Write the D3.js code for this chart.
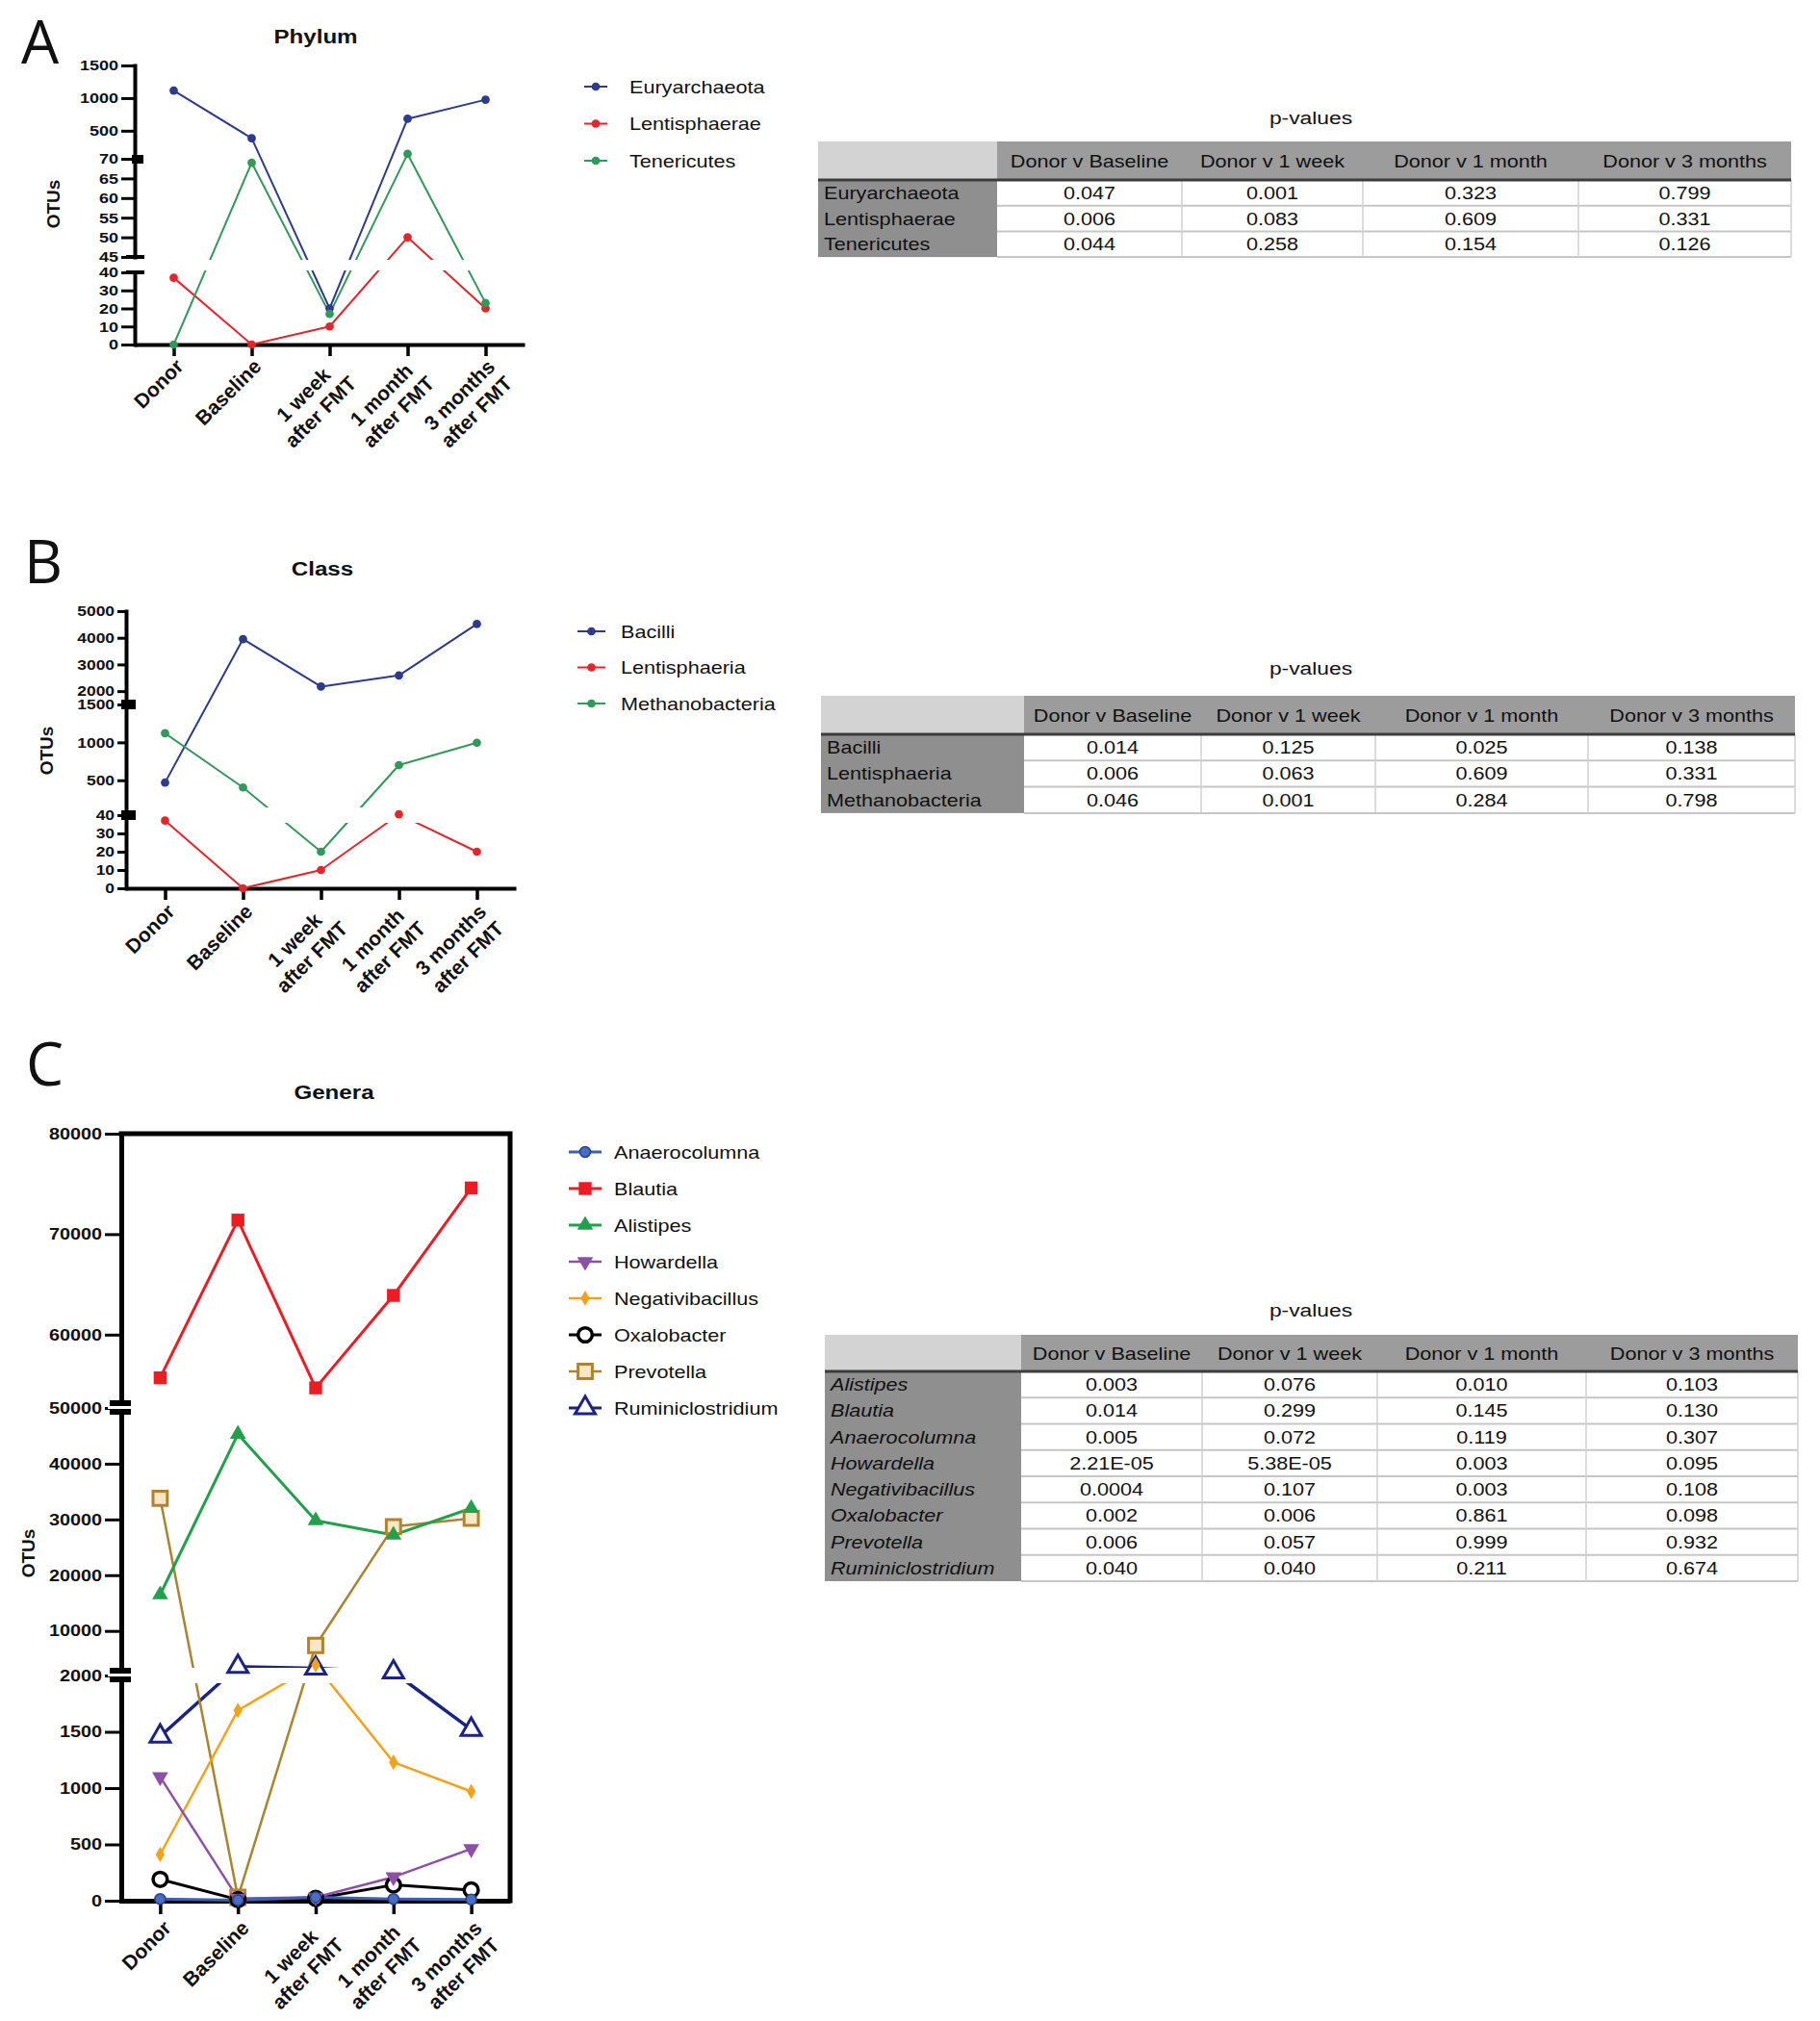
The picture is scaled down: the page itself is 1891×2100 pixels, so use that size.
<!DOCTYPE html>
<html><head><meta charset="utf-8">
<script src="https://cdn.jsdelivr.net/npm/d3@7"></script>
<style>body{margin:0;background:#fff;}</style>
</head><body>
<svg id="fig" width="1891" height="2100"></svg>
<script>
// ---------------- DATA ----------------
const timepoints = ["Donor", "Baseline", "1 week\nafter FMT", "1 month\nafter FMT", "3 months\nafter FMT"];

// Panel A – Phylum
const phylumNames = ["Euryarchaeota", "Lentisphaerae", "Tenericutes"];
const euryarchaeota = [1115, 385, 20, 683, 975];
const lentisphaerae = [37, 0, 10, 50, 20];
const tenericutes = [0, 69, 17, 145, 23];
const phylumTicks = [[0, 10, 20, 30, 40], [45, 50, 55, 60, 65, 70], [500, 1000, 1500]];

// Panel B – Class
const classNames = ["Bacilli", "Lentisphaeria", "Methanobacteria"];
const bacilli = [470, 3950, 2170, 2590, 4520];
const lentisphaeria = [37, 0, 10, 50, 20];
const methanobacteria = [1120, 405, 20, 700, 995];
const classTicks = [[0, 10, 20, 30, 40], [500, 1000, 1500], [2000, 3000, 4000, 5000]];

// Panel C – Genera
const generaNames = ["Anaerocolumna", "Blautia", "Alistipes", "Howardella", "Negativibacillus", "Oxalobacter", "Prevotella", "Ruminiclostridium"];
const anaerocolumna = [15, 5, 30, 15, 10];
const blautia = [55700, 71400, 54700, 63900, 74600];
const alistipes = [16500, 45300, 29800, 27200, 32000];
const howardella = [1100, 20, 30, 210, 460];
const negativibacillus = [410, 1690, 3900, 1230, 970];
const oxalobacter = [190, 10, 20, 140, 95];
const prevotella = [33800, 30, 7400, 28700, 30200];
const ruminiclostridium = [1460, 3600, 3300, 2600, 1520];
const generaTicks = [[0, 500, 1000, 1500, 2000], [10000, 20000, 30000, 40000, 50000], [60000, 70000, 80000]];

// p-value tables
const comparisons = ["Donor v Baseline", "Donor v 1 week", "Donor v 1 month", "Donor v 3 months"];
const phylumRows = ["Euryarchaeota", "Lentisphaerae", "Tenericutes"];
const phylumP = [["0.047", "0.001", "0.323", "0.799"], ["0.006", "0.083", "0.609", "0.331"], ["0.044", "0.258", "0.154", "0.126"]];
const classRows = ["Bacilli", "Lentisphaeria", "Methanobacteria"];
const classP = [["0.014", "0.125", "0.025", "0.138"], ["0.006", "0.063", "0.609", "0.331"], ["0.046", "0.001", "0.284", "0.798"]];
const generaRows = ["Alistipes", "Blautia", "Anaerocolumna", "Howardella", "Negativibacillus", "Oxalobacter", "Prevotella", "Ruminiclostridium"];
const generaP = [
  ["0.003", "0.076", "0.010", "0.103"],
  ["0.014", "0.299", "0.145", "0.130"],
  ["0.005", "0.072", "0.119", "0.307"],
  ["2.21E-05", "5.38E-05", "0.003", "0.095"],
  ["0.0004", "0.107", "0.003", "0.108"],
  ["0.002", "0.006", "0.861", "0.098"],
  ["0.006", "0.057", "0.999", "0.932"],
  ["0.040", "0.040", "0.211", "0.674"]
];

// ---------------- DRAWING ----------------
const SX = 1.2;
const FONT = '"Liberation Sans", Arial, Helvetica, sans-serif';
const svg = d3.select("#fig");
svg.append("rect").attr("width", 1891).attr("height", 2100).attr("fill", "#fff");

function sText(g, x, y, str, o = {}) {
  return g.append("text")
    .attr("transform", `translate(${x},${y}) scale(${o.sx ?? SX},1)`)
    .attr("font-family", o.family || FONT)
    .attr("font-size", o.size || 18)
    .attr("font-weight", o.weight || "normal")
    .attr("font-style", o.style || "normal")
    .attr("text-anchor", o.anchor || "start")
    .attr("fill", o.fill || "#111")
    .text(str);
}

const symTypes = {circle: d3.symbolCircle, square: d3.symbolSquare, triangle: d3.symbolTriangle, tridown: d3.symbolTriangle, diamond: d3.symbolDiamond};
function drawSymbol(g, cx, cy, m) {
  return g.append("path")
    .attr("d", d3.symbol().type(symTypes[m.shape]).size(m.size)())
    .attr("transform", `translate(${cx},${cy})` + (m.shape === "tridown" ? " rotate(180)" : ""))
    .attr("fill", m.fill).attr("stroke", m.stroke || "none").attr("stroke-width", m.sw || 0);
}

function drawChart(c) {
  const g = svg.append("g");
  const x = d3.scalePoint().domain(timepoints).range([c.x0, c.x1]).padding(0.5);
  const segScales = c.segs.map(s => d3.scaleLinear().domain(s.domain).range(s.range));
  const y = v => {
    for (let i = 0; i < c.segs.length; i++) {
      if (v <= c.segs[i].domain[1] || i === c.segs.length - 1) return segScales[i](v);
    }
  };
  // frame (top/right)
  if (c.frame) {
    g.append("path").attr("d", `M${c.x0},${c.top}H${c.x1}V${c.axisY}`).attr("fill", "none")
      .attr("stroke", "#000").attr("stroke-width", c.axisW).attr("stroke-linecap", "square");
  }
  // y axis segments
  segScales.forEach((s, i) => {
    const ax = d3.axisLeft(s).tickValues(c.ticks[i]).tickSize(c.tickLen).tickSizeOuter(0).tickFormat(d3.format("d"));
    const ag = g.append("g").attr("transform", `translate(${c.x0},0)`).call(ax);
    ag.select(".domain").attr("stroke", "#000").attr("stroke-width", c.axisW).attr("stroke-linecap", "square");
    ag.selectAll(".tick line").attr("stroke", "#000").attr("stroke-width", 3);
    ag.selectAll(".tick text").attr("font-family", FONT).attr("font-size", c.tickFont).attr("font-weight", "bold")
      .attr("fill", "#111").attr("x", -(c.tickLen + 3) / SX).attr("transform", `scale(${SX},1)`);
  });
  // x axis
  const xa = g.append("g").attr("transform", `translate(0,${c.axisY})`)
    .call(d3.axisBottom(x).tickSize(c.xTickLen).tickSizeOuter(0).tickFormat(""));
  xa.select(".domain").attr("stroke", "#000").attr("stroke-width", c.axisW);
  xa.selectAll(".tick line").attr("stroke", "#000").attr("stroke-width", 3.5);
  // lines
  const line = d3.line().x((d, i) => x(timepoints[i])).y(d => y(d));
  const order = c.drawOrder || c.series.map((s, i) => i);
  order.forEach(i => {
    const s = c.series[i];
    g.append("path").datum(s.values).attr("d", line).attr("fill", "none")
      .attr("stroke", s.color).attr("stroke-width", s.lw).attr("stroke-linejoin", "round");
  });
  // gap bands at axis breaks
  (c.gaps || []).forEach(b => {
    g.append("rect").attr("x", c.x0 + 3).attr("y", b[0]).attr("width", c.x1 - c.x0 - 6).attr("height", b[1] - b[0]).attr("fill", "#fff");
  });
  // break markers
  (c.breaks || []).forEach(b => {
    g.append("rect").attr("x", b.x).attr("y", b.y).attr("width", b.w).attr("height", b.h).attr("fill", "#000");
    if (b.stripe) g.append("rect").attr("x", b.x - 2).attr("y", b.y + b.h / 2 - 1.5).attr("width", b.w + 4).attr("height", 3).attr("fill", "#fff");
  });
  // markers
  order.forEach(i => {
    const s = c.series[i];
    s.values.forEach((v, j) => drawSymbol(g, x(timepoints[j]), y(v), s.marker));
  });
  // x labels
  timepoints.forEach(tp => {
    const lines = tp.split("\n");
    const lg = g.append("g").attr("transform", `translate(${x(tp)},${c.axisY}) rotate(-45)`);
    const texts = lines.map((ln, i) => lg.append("text").attr("font-family", FONT).attr("font-size", 21)
      .attr("font-weight", "bold").attr("fill", "#111").attr("text-anchor", "end")
      .attr("y", c.labV + i * 25).text(ln));
    const widths = texts.map(t => t.node().getComputedTextLength());
    const maxW = Math.max(...widths);
    texts.forEach((t, i) => t.attr("x", c.labU - (maxW - widths[i]) / 2));
  });
  // y title
  g.append("text").attr("transform", `translate(${c.yTitle[0]},${c.yTitle[1]}) rotate(-90)`)
    .attr("font-family", FONT).attr("font-size", 19).attr("font-weight", "bold").attr("text-anchor", "middle")
    .attr("fill", "#111").text("OTUs");
  // chart title
  sText(g, c.title[0], c.title[1], c.title[2], {size: 21, weight: "bold", anchor: "middle", sx: 1.15});
  // panel letter
  g.append("text").attr("x", c.letter[0]).attr("y", c.letter[1]).attr("font-family", '"Open Sans", "Liberation Sans", sans-serif')
    .attr("font-size", 62).attr("fill", "#111").text(c.letter[2]);
  // legend
  c.series.forEach((s, i) => {
    const ly = c.legend.y0 + i * c.legend.dy;
    g.append("line").attr("x1", c.legend.l0).attr("x2", c.legend.l1).attr("y1", ly).attr("y2", ly)
      .attr("stroke", s.color).attr("stroke-width", Math.min(s.lw, 3));
    drawSymbol(g, (c.legend.l0 + c.legend.l1) / 2, ly, s.marker);
    sText(g, c.legend.tx, ly + 6.5, s.name, {size: 18});
  });
}

function drawTable(t) {
  const g = svg.append("g");
  const xs = t.xs;
  const left = xs[0], right = xs[xs.length - 1];
  const n = t.rows.length;
  const bottom = t.hdr + n * t.rowH;
  sText(g, t.titleX, t.titleY, "p-values", {size: 19, anchor: "middle"});
  g.append("rect").attr("x", left).attr("y", t.top).attr("width", xs[1] - left).attr("height", t.hdr - t.top).attr("fill", "#d3d3d3");
  g.append("rect").attr("x", xs[1]).attr("y", t.top).attr("width", right - xs[1]).attr("height", t.hdr - t.top).attr("fill", "#9c9c9c");
  g.append("rect").attr("x", left).attr("y", t.hdr).attr("width", xs[1] - left).attr("height", bottom - t.hdr).attr("fill", "#8f8f8f");
  for (let i = 1; i <= n; i++) {
    g.append("line").attr("x1", xs[1]).attr("x2", right).attr("y1", t.hdr + i * t.rowH).attr("y2", t.hdr + i * t.rowH)
      .attr("stroke", "#c6c6c6").attr("stroke-width", 2);
  }
  xs.slice(2).forEach(xv => {
    g.append("line").attr("x1", xv).attr("x2", xv).attr("y1", t.hdr).attr("y2", bottom).attr("stroke", "#d0d0d0").attr("stroke-width", 1.5);
  });
  g.append("line").attr("x1", left).attr("x2", right).attr("y1", t.hdr).attr("y2", t.hdr).attr("stroke", "#3c3c3c").attr("stroke-width", 3);
  comparisons.forEach((cmp, j) => {
    sText(g, (xs[j + 1] + xs[j + 2]) / 2, (t.top + t.hdr) / 2 + 6.5, cmp, {size: 18, anchor: "middle"});
  });
  t.rows.forEach((r, i) => {
    const cy = t.hdr + (i + 0.5) * t.rowH + 6.5;
    sText(g, left + 6, cy, r, {size: 18, style: t.italic ? "italic" : "normal"});
    t.values[i].forEach((v, j) => sText(g, (xs[j + 1] + xs[j + 2]) / 2, cy, v, {size: 18, anchor: "middle"}));
  });
}

const dot = col => ({shape: "circle", size: 60, fill: col});

// Panel A
drawChart({
  x0: 140, x1: 545, axisY: 358, axisW: 4, tickLen: 14, tickFont: 15, xTickLen: 12,
  segs: [{domain: [0, 40], range: [358, 283]}, {domain: [45, 70], range: [267, 165]}, {domain: [70, 1500], range: [165, 68]}],
  ticks: phylumTicks,
  gaps: [[270, 281]],
  breaks: [{x: 137, y: 161, w: 12, h: 9}, {x: 131, y: 265, w: 19, h: 4}, {x: 131, y: 281, w: 19, h: 4}],
  series: [
    {name: phylumNames[0], values: euryarchaeota, color: "#2c3b8c", lw: 2, marker: dot("#2c3b8c")},
    {name: phylumNames[1], values: lentisphaerae, color: "#e2262b", lw: 2, marker: dot("#e2262b")},
    {name: phylumNames[2], values: tenericutes, color: "#33995a", lw: 2, marker: dot("#33995a")}
  ],
  labU: -9, labV: 25,
  yTitle: [62, 212], title: [328, 45, "Phylum"], letter: [22, 66, "A"],
  legend: {y0: 90, dy: 38.5, l0: 607, l1: 631, tx: 654}
});

// Panel B
drawChart({
  x0: 131, x1: 536, axisY: 923, axisW: 4, tickLen: 9, tickFont: 14.5, xTickLen: 12,
  segs: [{domain: [0, 40], range: [923, 847]}, {domain: [40, 1500], range: [847, 732]}, {domain: [1500, 5000], range: [732, 635]}],
  ticks: classTicks,
  gaps: [[839, 855]],
  breaks: [{x: 126, y: 727, w: 15, h: 10}, {x: 126, y: 842, w: 15, h: 10}],
  series: [
    {name: classNames[0], values: bacilli, color: "#2c3b8c", lw: 2, marker: dot("#2c3b8c")},
    {name: classNames[1], values: lentisphaeria, color: "#e2262b", lw: 2, marker: dot("#e2262b")},
    {name: classNames[2], values: methanobacteria, color: "#33995a", lw: 2, marker: dot("#33995a")}
  ],
  labU: -10, labV: 26,
  yTitle: [55, 780], title: [335, 598, "Class"], letter: [25, 606, "B"],
  legend: {y0: 656, dy: 37.5, l0: 600, l1: 629, tx: 645}
});

// Panel C
drawChart({
  x0: 126, x1: 530, top: 1178, axisY: 1975, axisW: 5, tickLen: 17, tickFont: 16.5, xTickLen: 14, frame: true,
  segs: [{domain: [0, 2000], range: [1975, 1741]}, {domain: [2000, 50000], range: [1741, 1463]}, {domain: [52700, 80000], range: [1463, 1178]}],
  ticks: generaTicks,
  gaps: [[1733, 1749], [1456, 1470]],
  breaks: [{x: 114, y: 1455, w: 22, h: 15, stripe: true}, {x: 114, y: 1733, w: 22, h: 15, stripe: true}],
  drawOrder: [7, 6, 5, 4, 3, 2, 1, 0],
  series: [
    {name: generaNames[0], values: anaerocolumna, color: "#3d5fb6", lw: 3, marker: {shape: "circle", size: 95, fill: "#4a6cc2", stroke: "#27418a", sw: 1.5}},
    {name: generaNames[1], values: blautia, color: "#ec1c24", lw: 3, marker: {shape: "square", size: 180, fill: "#ec1c24"}},
    {name: generaNames[2], values: alistipes, color: "#22a04b", lw: 3, marker: {shape: "triangle", size: 120, fill: "#22a04b"}},
    {name: generaNames[3], values: howardella, color: "#8e4fa6", lw: 2.5, marker: {shape: "tridown", size: 120, fill: "#8e4fa6"}},
    {name: generaNames[4], values: negativibacillus, color: "#f5a21b", lw: 2.5, marker: {shape: "diamond", size: 75, fill: "#f5a21b"}},
    {name: generaNames[5], values: oxalobacter, color: "#000000", lw: 3, marker: {shape: "circle", size: 170, fill: "#fff", stroke: "#000", sw: 3.5}},
    {name: generaNames[6], values: prevotella, color: "#a8852e", lw: 2.5, marker: {shape: "square", size: 220, fill: "#f6e7c6", stroke: "#b3822a", sw: 3}},
    {name: generaNames[7], values: ruminiclostridium, color: "#1c2481", lw: 3.5, marker: {shape: "triangle", size: 190, fill: "#fff", stroke: "#1c2481", sw: 3}}
  ],
  labU: -12, labV: 30,
  yTitle: [36, 1614], title: [347, 1142, "Genera"], letter: [27, 1128, "C"],
  legend: {y0: 1197, dy: 38, l0: 591, l1: 625, tx: 638}
});

// Tables
drawTable({xs: [850, 1036, 1228, 1416, 1640, 1861], top: 147, hdr: 187, rowH: 26.7, titleX: 1362, titleY: 129,
  rows: phylumRows, values: phylumP, italic: false});
drawTable({xs: [853, 1064, 1248, 1429, 1650, 1865], top: 723, hdr: 763, rowH: 27.3, titleX: 1362, titleY: 701,
  rows: classRows, values: classP, italic: false});
drawTable({xs: [857, 1061, 1249, 1431, 1648, 1868], top: 1387, hdr: 1425, rowH: 27.25, titleX: 1362, titleY: 1368,
  rows: generaRows, values: generaP, italic: true});
</script>
</body></html>
